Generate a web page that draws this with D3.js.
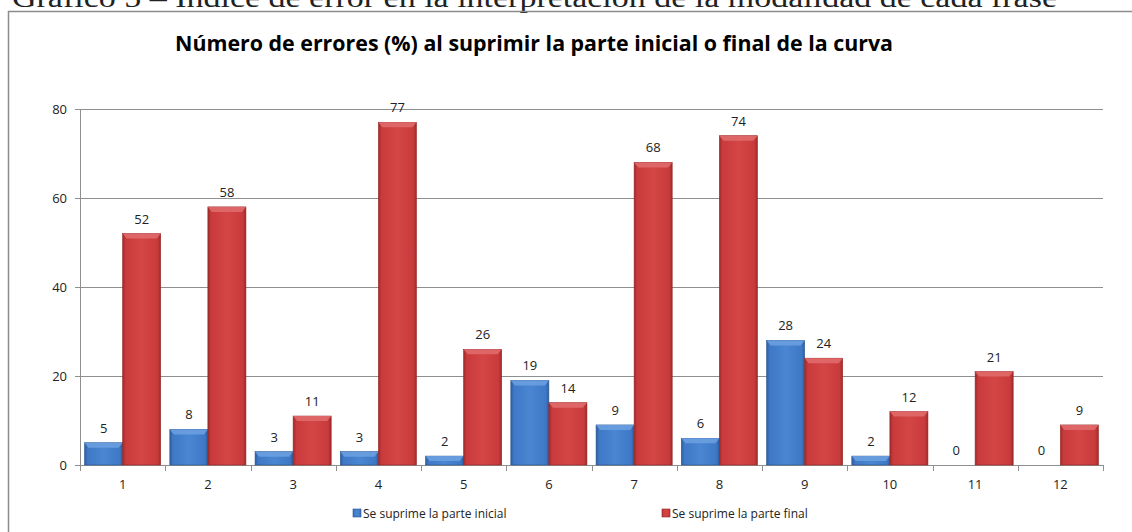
<!DOCTYPE html>
<html>
<head>
<meta charset="utf-8">
<script src="https://cdn.jsdelivr.net/npm/d3@7"></script>
<style>
  body { margin: 0; background: #fff; }
  svg { display: block; }
</style>
</head>
<body>
<div id="chart"></div>
<script>
// chart data
var categories = ["1", "2", "3", "4", "5", "6", "7", "8", "9", "10", "11", "12"];
var seriesNames = ["Se suprime la parte inicial", "Se suprime la parte final"];
var inicial = [5, 8, 3, 3, 2, 19, 9, 6, 28, 2, 0, 0];
var final = [52, 58, 11, 77, 26, 14, 68, 74, 24, 12, 21, 9];
var yTicks = [0, 20, 40, 60, 80];

var svgWidth = 1132;
var svgHeight = 532;

var margin = { top: 109, right: 29, bottom: 67, left: 80 };
var width = svgWidth - margin.left - margin.right;
var height = svgHeight - margin.top - margin.bottom;

var svg = d3.select("#chart")
  .append("svg")
  .attr("width", svgWidth)
  .attr("height", svgHeight);

// gradients for the bevelled bars
var defs = svg.append("defs");
function bevel(id, edge, mid, light) {
  var g = defs.append("linearGradient").attr("id", id)
    .attr("x1", "0").attr("x2", "1").attr("y1", "0").attr("y2", "0");
  g.append("stop").attr("offset", "0%").attr("stop-color", edge);
  g.append("stop").attr("offset", "8%").attr("stop-color", mid);
  g.append("stop").attr("offset", "50%").attr("stop-color", light);
  g.append("stop").attr("offset", "92%").attr("stop-color", mid);
  g.append("stop").attr("offset", "100%").attr("stop-color", edge);
}
bevel("gBlue", "#2d5d9e", "#3e78c6", "#4a86d2");
bevel("gRed", "#9e2a2a", "#c83a3b", "#d44546");
var fills = ["url(#gBlue)", "url(#gRed)"];
var tops = ["#6a9fe0", "#e06a6a"];

// caption of the document (cut off at the top)
svg.append("text")
  .attr("x", 12)
  .attr("y", 7)
  .attr("font-family", "Liberation Serif, serif")
  .attr("font-size", "27px")
  .attr("fill", "#222")
  .attr("textLength", 1045)
  .attr("lengthAdjust", "spacingAndGlyphs")
  .text("Gráfico 5 – Índice de error en la interpretación de la modalidad de cada frase");

// frame of the chart
svg.append("line")
  .attr("x1", 8).attr("x2", svgWidth).attr("y1", 11.5).attr("y2", 11.5)
  .attr("stroke", "#8c8c8c").attr("stroke-width", 1.5);
svg.append("line")
  .attr("x1", 8.5).attr("x2", 8.5).attr("y1", 11).attr("y2", svgHeight)
  .attr("stroke", "#8c8c8c").attr("stroke-width", 1.5);

// title
svg.append("text")
  .attr("x", 534)
  .attr("y", 51)
  .attr("text-anchor", "middle")
  .attr("font-family", "Open Sans, sans-serif")
  .attr("font-weight", "700")
  .attr("font-size", "21px")
  .attr("fill", "#000")
  .attr("textLength", 718)
  .attr("lengthAdjust", "spacingAndGlyphs")
  .text("Número de errores (%) al suprimir la parte inicial o final de la curva");

var chartGroup = svg.append("g")
  .attr("transform", `translate(${margin.left}, ${margin.top})`);

var x0 = d3.scaleBand()
  .domain(categories)
  .range([0, width])
  .padding(0);

var x1 = d3.scaleBand()
  .domain(seriesNames)
  .range([0, x0.bandwidth()])
  .paddingInner(0)
  .paddingOuter(0.12);

var yLinearScale = d3.scaleLinear()
  .domain([0, 80])
  .range([height, 0]);

// gridlines
chartGroup.append("g")
  .selectAll("line")
  .data(yTicks.filter(d => d > 0))
  .enter()
  .append("line")
  .attr("x1", 0)
  .attr("x2", width)
  .attr("y1", d => Math.round(yLinearScale(d)) + 0.5)
  .attr("y2", d => Math.round(yLinearScale(d)) + 0.5)
  .attr("stroke", "#8f8f8f");

// axes
var leftAxis = d3.axisLeft(yLinearScale).tickValues(yTicks).tickSize(5).tickPadding(8);
var yAxis = chartGroup.append("g").call(leftAxis);

var bottomAxis = d3.axisBottom(x0).tickSize(0).tickPadding(15);
var xAxis = chartGroup.append("g")
  .attr("transform", `translate(0, ${height})`)
  .call(bottomAxis);

// category boundary ticks
chartGroup.append("g")
  .selectAll("line")
  .data(categories.concat(["end"]))
  .enter()
  .append("line")
  .attr("x1", (d, i) => Math.round(i * x0.step()) + 0.5)
  .attr("x2", (d, i) => Math.round(i * x0.step()) + 0.5)
  .attr("y1", height)
  .attr("y2", height + 6)
  .attr("stroke", "#8f8f8f");

[yAxis, xAxis].forEach(function(ax) {
  ax.select(".domain").attr("stroke", "#8f8f8f");
  ax.selectAll(".tick line").attr("stroke", "#8f8f8f");
  ax.selectAll(".tick text")
    .attr("font-family", "Open Sans, sans-serif")
    .attr("font-size", "13px")
    .attr("fill", "#222");
});

// bars
var rows = categories.map(function(c, i) {
  return { cat: c, values: [inicial[i], final[i]] };
});

var groups = chartGroup.selectAll(".grp")
  .data(rows)
  .enter()
  .append("g")
  .attr("class", "grp")
  .attr("transform", d => `translate(${x0(d.cat)}, 0)`);

var cells = groups.selectAll(".cell")
  .data(d => d.values.map((v, k) => ({ s: k, v: v })))
  .enter()
  .append("g")
  .attr("class", "cell");

cells.filter(d => d.v > 0)
  .append("rect")
  .attr("x", d => x1(seriesNames[d.s]))
  .attr("y", d => yLinearScale(d.v))
  .attr("width", x1.bandwidth())
  .attr("height", d => height - yLinearScale(d.v))
  .attr("fill", d => fills[d.s])
  .attr("stroke", d => d.s === 0 ? "#2a5590" : "#952626")
  .attr("stroke-width", 0.6);

// top bevel highlight
cells.filter(d => d.v > 0)
  .append("path")
  .attr("d", function(d) {
    var xa = x1(seriesNames[d.s]), w = x1.bandwidth(), ya = yLinearScale(d.v);
    var h = Math.min(5, height - ya);
    return `M${xa},${ya}L${xa + w},${ya}L${xa + w - 4},${ya + h}L${xa + 4},${ya + h}Z`;
  })
  .attr("fill", d => tops[d.s])
  .attr("opacity", 0.9);

// value labels
cells.append("text")
  .attr("x", d => x1(seriesNames[d.s]) + x1.bandwidth() / 2)
  .attr("y", d => yLinearScale(d.v) - 10)
  .attr("text-anchor", "middle")
  .attr("font-family", "Open Sans, sans-serif")
  .attr("font-size", "13px")
  .attr("fill", "#222")
  .text(d => d.v);

// legend
var legendX = [353, 662];
var legend = svg.append("g").selectAll("g")
  .data(seriesNames)
  .enter()
  .append("g")
  .attr("transform", (d, i) => `translate(${legendX[i]}, 513)`);

legend.append("rect")
  .attr("x", 0)
  .attr("y", -4)
  .attr("width", 8)
  .attr("height", 8)
  .attr("fill", (d, i) => fills[i])
  .attr("stroke", (d, i) => i === 0 ? "#2a5590" : "#952626")
  .attr("stroke-width", 0.6);

legend.append("text")
  .attr("x", 10)
  .attr("y", 4.5)
  .attr("font-family", "Open Sans, sans-serif")
  .attr("font-size", "12px")
  .attr("fill", "#222")
  .text(d => d);
</script>
</body>
</html>
